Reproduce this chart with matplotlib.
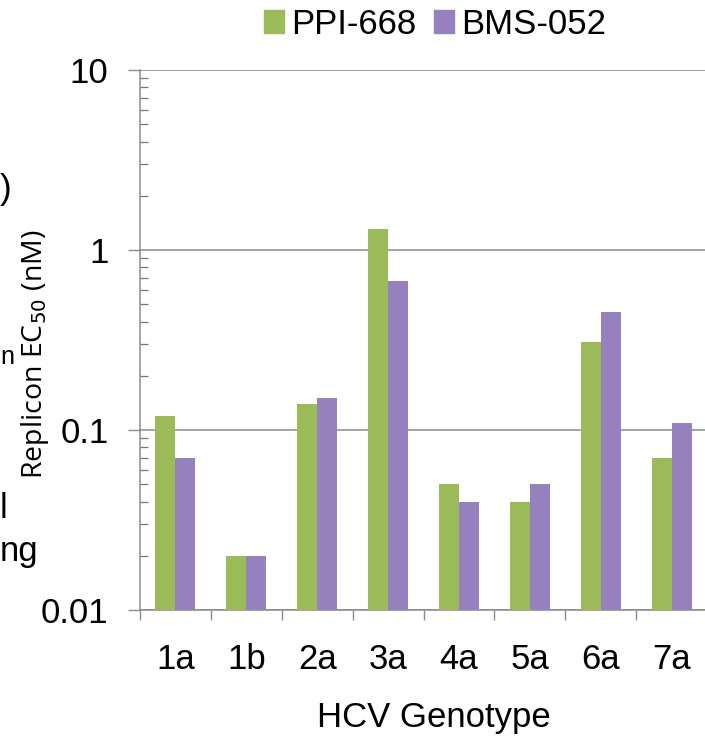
import numpy as np
import matplotlib
matplotlib.use("Agg")
import matplotlib.pyplot as plt
from matplotlib.patches import Patch
from matplotlib.ticker import LogLocator, FixedLocator, NullFormatter

genotypes = ["1a", "1b", "2a", "3a", "4a", "5a", "6a", "7a"]
ppi_668 = [0.12, 0.02, 0.14, 1.3, 0.05, 0.04, 0.31, 0.07]
bms_052 = [0.07, 0.02, 0.15, 0.67, 0.04, 0.05, 0.45, 0.11]
series_names = ["PPI-668", "BMS-052"]
ytick_labels = ["0.01", "0.1", "1", "10"]

green = "#9bbb59"
purple = "#9680bd"
grey = "#8a8a8a"
fs = 25

plt.rcParams["font.family"] = ["Liberation Sans", "DejaVu Sans"]

fig = plt.figure(figsize=(7.05, 7.37), dpi=100)
ax = fig.add_axes([140 / 705, 1 - 610 / 737, 567 / 705, 540 / 737])

x = np.arange(len(genotypes))
w = 0.282
ax.bar(x - w / 2, ppi_668, w, color=green, log=True, zorder=3)
ax.bar(x + w / 2, bms_052, w, color=purple, log=True, zorder=3)

ax.set_yscale("log")
ax.set_ylim(0.01, 10)
ax.set_xlim(-0.5, len(genotypes) - 0.5)

ax.set_yticks([0.01, 0.1, 1, 10])
ax.set_yticklabels(ytick_labels, fontsize=fs)
ax.yaxis.set_minor_locator(LogLocator(base=10, subs=np.arange(2, 10)))
ax.yaxis.set_minor_formatter(NullFormatter())
ax.tick_params(axis="y", which="major", direction="out", length=8.6,
               width=1, color=grey, pad=14)
ax.tick_params(axis="y", which="minor", direction="in", length=5.5,
               width=0.9, color="#777777")
ax.grid(axis="y", which="major", color=grey, linewidth=1.1, zorder=0)

# category boundaries get ticks, centres get labels
ax.xaxis.set_major_locator(FixedLocator(np.arange(len(genotypes) + 1) - 0.5))
ax.xaxis.set_major_formatter(NullFormatter())
ax.xaxis.set_minor_locator(FixedLocator(x))
ax.set_xticklabels(genotypes, minor=True, fontsize=fs)
ax.tick_params(axis="x", which="major", direction="out", length=7.5,
               width=1, color=grey)
ax.tick_params(axis="x", which="minor", length=0, pad=24)

for s in ["top", "right"]:
    ax.spines[s].set_visible(False)
for s in ["left", "bottom"]:
    ax.spines[s].set_color(grey)
    ax.spines[s].set_linewidth(1.1)

ax.set_ylabel("Replicon EC$_{50}$ (nM)", fontsize=20.5,
              family=["Open Sans", "DejaVu Sans"])
ax.yaxis.set_label_coords(-0.157, 0.474)

fig.text(434 / 705, 1 - 727 / 737, "HCV Genotype", fontsize=fs,
         ha="center", va="baseline")

handles = [Patch(color=green, label=series_names[0]),
           Patch(color=purple, label=series_names[1])]
fig.legend(handles=handles, loc="center", bbox_to_anchor=(435 / 705, 1 - 24 / 737),
           ncol=2, frameon=False, fontsize=fs, handlelength=0.58, handleheight=0.63,
           handletextpad=0.2, columnspacing=0.5, borderpad=0)

# text fragments along the left edge
fig.text(0, 1 - 190 / 737, ")", fontsize=fs, ha="left", va="center")
fig.text(0, 1 - 357 / 737, "n", fontsize=18, ha="left", va="center")
fig.text(0, 1 - 508 / 737, "l", fontsize=fs, ha="left", va="center")
fig.text(0, 1 - 552 / 737, "ng", fontsize=fs, ha="left", va="center")

fig.savefig("out.png", dpi=100)
